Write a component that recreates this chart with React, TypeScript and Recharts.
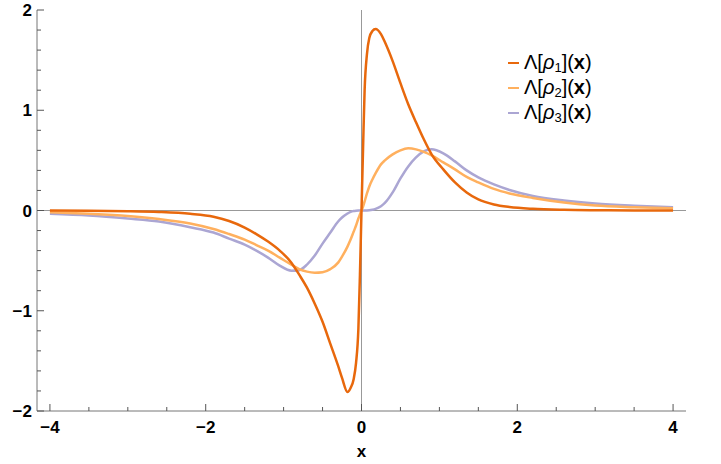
import { LineChart, Line, XAxis, YAxis, ReferenceLine, Legend } from 'recharts';

const xs = [
  -4, -3.5, -3, -2.6, -2.2, -1.9, -1.7, -1.5, -1.35, -1.2, -1.05, -0.9, -0.8, -0.7, -0.6, -0.5, -0.4, -0.3, -0.25,
  -0.18, -0.14, -0.1, -0.07, -0.04, -0.02, 0, 0.02, 0.04, 0.07, 0.1, 0.14, 0.18, 0.25, 0.3, 0.4, 0.5, 0.6, 0.7, 0.8,
  0.9, 1.05, 1.2, 1.35, 1.5, 1.7, 1.9, 2.2, 2.6, 3, 3.5, 4,
];

const rho1 = [
  -0.001, -0.003, -0.007, -0.015, -0.033, -0.062, -0.105, -0.17, -0.235, -0.31, -0.4, -0.52, -0.64, -0.77, -0.93,
  -1.11, -1.33, -1.55, -1.67, -1.81, -1.77, -1.68, -1.52, -1.18, -0.64, 0, 0.62, 1.2, 1.56, 1.72, 1.79, 1.81, 1.76,
  1.68, 1.49, 1.27, 1.06, 0.88, 0.71, 0.56, 0.41, 0.28, 0.18, 0.11, 0.06, 0.035, 0.017, 0.007, 0.003, 0.001, 0.0005,
];

const rho2 = [
  -0.018, -0.033, -0.055, -0.085, -0.13, -0.185, -0.235, -0.29, -0.345, -0.4, -0.47, -0.54, -0.585, -0.61, -0.62,
  -0.615, -0.585, -0.52, -0.46, -0.36, -0.29, -0.21, -0.15, -0.08, -0.04, 0, 0.04, 0.09, 0.17, 0.24, 0.31, 0.37, 0.46,
  0.5, 0.56, 0.6, 0.62, 0.61, 0.585, 0.55, 0.48, 0.41, 0.335, 0.28, 0.215, 0.17, 0.125, 0.08, 0.05, 0.033, 0.022,
];

const rho3 = [
  -0.033, -0.05, -0.08, -0.11, -0.167, -0.22, -0.28, -0.34, -0.4, -0.47, -0.55, -0.6, -0.595, -0.54, -0.45, -0.33,
  -0.22, -0.11, -0.07, -0.03, -0.013, -0.005, -0.002, -0.0003, 0, 0, 0, 0.0002, 0.001, 0.003, 0.008, 0.016, 0.042,
  0.075, 0.18, 0.32, 0.44, 0.53, 0.59, 0.61, 0.57, 0.49, 0.4, 0.33, 0.26, 0.205, 0.145, 0.1, 0.07, 0.048, 0.033,
];

const xMajor = [-4, -2, 0, 2, 4];
const xMinor = [-3.5, -3, -2.5, -1.5, -1, -0.5, 0.5, 1, 1.5, 2.5, 3, 3.5];
const yMajor = [-2, -1, 0, 1, 2];
const yMinor = [-1.8, -1.6, -1.4, -1.2, -0.8, -0.6, -0.4, -0.2, 0.2, 0.4, 0.6, 0.8, 1.2, 1.4, 1.6, 1.8];

const SERIES = [
  { key: 'r3', sub: '3', color: '#aba6d3' },
  { key: 'r2', sub: '2', color: '#ffb05e' },
  { key: 'r1', sub: '1', color: '#e8680c' },
];
const LEGEND_ORDER = ['r1', 'r2', 'r3'];

const data = xs.map((x, i) => ({ x, r1: rho1[i], r2: rho2[i], r3: rho3[i] }));

const FONT = '"Liberation Sans", Arial, sans-serif';
const fmt = (v: number) => (v < 0 ? `\u2212${Math.abs(v)}` : `${v}`);

function XTick(props: any) {
  const { x, y, payload, side } = props;
  const major = xMajor.includes(payload.value);
  const len = major ? 7 : 4;
  const dir = side === 'bottom' ? -1 : 1;
  return (
    <g>
      <line x1={x} y1={y} x2={x} y2={y + dir * len} stroke="#555" strokeWidth={1} />
      {side === 'bottom' && major && (
        <text x={x} y={y + 22} textAnchor="middle" fontFamily={FONT} fontWeight="bold" fontSize={17} fill="#000">
          {fmt(payload.value)}
        </text>
      )}
    </g>
  );
}

function YTick(props: any) {
  const { x, y, payload, side } = props;
  const major = yMajor.includes(payload.value);
  const len = major ? 7 : 4;
  const dir = side === 'left' ? 1 : -1;
  return (
    <g>
      <line x1={x} y1={y} x2={x + dir * len} y2={y} stroke="#555" strokeWidth={1} />
      {side === 'left' && major && (
        <text x={x - 5} y={y + 6} textAnchor="end" fontFamily={FONT} fontWeight="bold" fontSize={17} fill="#000">
          {fmt(payload.value)}
        </text>
      )}
    </g>
  );
}

function LegendBox() {
  return (
    <div style={{ fontFamily: FONT, fontSize: 20, color: '#000' }}>
      {LEGEND_ORDER.map((k) => {
        const s = SERIES.find((d) => d.key === k)!;
        return (
          <div key={k} style={{ display: 'flex', alignItems: 'center', height: 25 }}>
            <span style={{ display: 'inline-block', width: 11, height: 2, background: s.color, marginRight: 5 }} />
            <span>
              Λ[<i>ρ</i>
              <sub style={{ fontSize: 13, verticalAlign: '-3px' }}>{s.sub}</sub>](<b>x</b>)
            </span>
          </div>
        );
      })}
    </div>
  );
}

export default function App() {
  const xTicks = [...xMajor, ...xMinor].sort((a, b) => a - b);
  const yTicks = [...yMajor, ...yMinor].sort((a, b) => a - b);
  return (
    <div style={{ position: 'absolute', left: 0, top: 0, background: '#fff' }}>
      <LineChart width={721} height={464} data={data} margin={{ top: 10, right: 35, left: 0, bottom: 0 }}>
        <XAxis
          xAxisId="b"
          dataKey="x"
          type="number"
          domain={[-4.166, 4.166]}
          ticks={xTicks}
          interval={0}
          height={53}
          tickSize={0}
          tickMargin={0}
          axisLine={{ stroke: '#777' }}
          tick={(p: any) => <XTick {...p} side="bottom" />}
          label={{
            content: (p: any) => {
              const vb = p.viewBox;
              return (
                <text x={vb.x + vb.width / 2} y={vb.y + 46} textAnchor="middle" fontFamily={FONT} fontWeight="bold" fontSize={17}>
                  x
                </text>
              );
            },
          }}
        />
        <XAxis
          xAxisId="t"
          orientation="top"
          dataKey="x"
          type="number"
          domain={[-4.166, 4.166]}
          ticks={xTicks}
          interval={0}
          height={0}
          tickSize={0}
          tickMargin={0}
          axisLine={{ stroke: '#111' }}
          tick={(p: any) => <XTick {...p} side="top" />}
        />
        <YAxis
          yAxisId="l"
          type="number"
          domain={[-2, 2]}
          ticks={yTicks}
          interval={0}
          width={37}
          tickSize={0}
          tickMargin={0}
          axisLine={{ stroke: '#777' }}
          tick={(p: any) => <YTick {...p} side="left" />}
        />
        <YAxis
          yAxisId="r"
          orientation="right"
          type="number"
          domain={[-2, 2]}
          ticks={yTicks}
          interval={0}
          width={0}
          tickSize={0}
          tickMargin={0}
          axisLine={{ stroke: '#111' }}
          tick={(p: any) => <YTick {...p} side="right" />}
        />
        <ReferenceLine xAxisId="b" yAxisId="l" x={0} stroke="#999" strokeWidth={1} />
        <ReferenceLine xAxisId="b" yAxisId="l" y={0} stroke="#999" strokeWidth={1} />
        {SERIES.map((s) => (
          <Line
            key={s.key}
            xAxisId="b"
            yAxisId="l"
            dataKey={s.key}
            type="monotone"
            stroke={s.color}
            strokeWidth={2.5}
            dot={false}
            isAnimationActive={false}
          />
        ))}
        <Legend
          layout="horizontal"
          align="center"
          verticalAlign="middle"
          content={() => <LegendBox />}
          wrapperStyle={{ left: 508, top: 50, width: 'auto' }}
        />
      </LineChart>
    </div>
  );
}
